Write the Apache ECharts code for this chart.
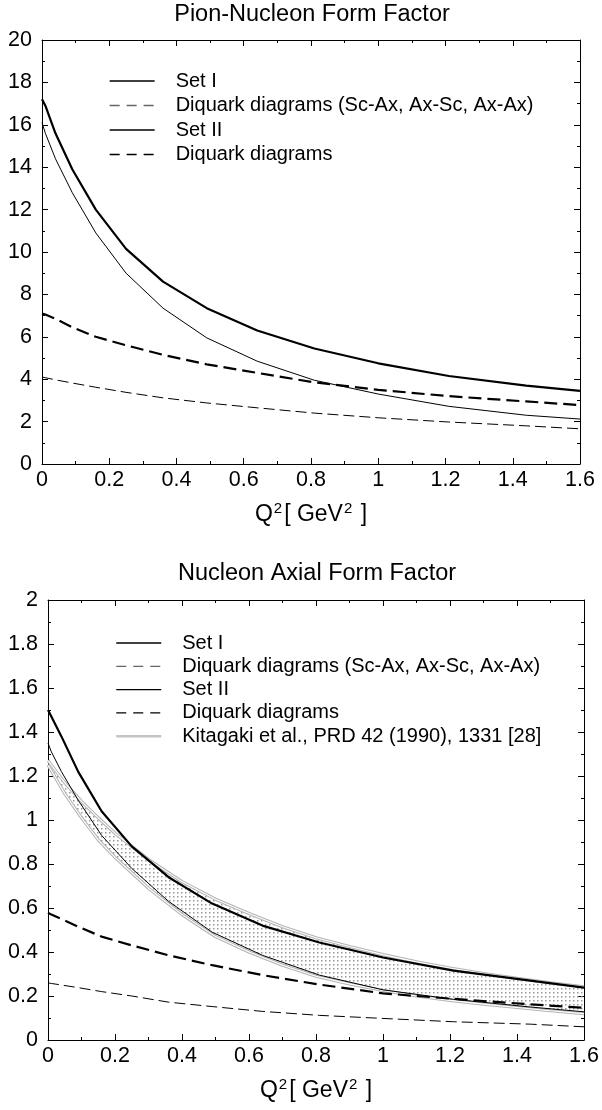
<!DOCTYPE html>
<html><head><meta charset="utf-8">
<script src="https://cdn.jsdelivr.net/npm/echarts@6/dist/echarts.min.js"></script>
<style>html,body{margin:0;padding:0;background:#fff}#c1,#c2{width:602px;height:555px}</style>
</head><body><div id="c1"></div><div id="c2"></div>
<script>
// ---------- data ----------
const q2 = [0, 0.01, 0.04, 0.09, 0.16, 0.25, 0.36, 0.49, 0.64, 0.81, 1.0, 1.21, 1.44, 1.6];

// Pion-Nucleon form factor
const pionSetI      = [17.2, 16.9, 15.6, 13.9, 12.0, 10.15, 8.6, 7.35, 6.3, 5.45, 4.75, 4.15, 3.7, 3.45];
const pionDiqI      = [7.1, 7.05, 6.85, 6.45, 6.0, 5.6, 5.15, 4.7, 4.3, 3.85, 3.5, 3.2, 2.95, 2.78];
const pionSetII     = [16.1, 15.6, 14.4, 12.8, 10.9, 9.0, 7.35, 5.95, 4.85, 3.95, 3.3, 2.72, 2.3, 2.12];
const pionDiqII     = [4.1, 4.07, 3.97, 3.82, 3.62, 3.38, 3.12, 2.88, 2.65, 2.4, 2.18, 1.98, 1.8, 1.66];

// Nucleon axial form factor
const axSetI        = [1.5, 1.47, 1.38, 1.22, 1.04, 0.88, 0.74, 0.62, 0.52, 0.443, 0.375, 0.315, 0.27, 0.238];
const axDiqI        = [0.578, 0.57, 0.55, 0.515, 0.47, 0.43, 0.385, 0.34, 0.295, 0.252, 0.212, 0.187, 0.162, 0.146];
const axSetII       = [1.35, 1.31, 1.22, 1.09, 0.93, 0.78, 0.63, 0.49, 0.385, 0.295, 0.228, 0.185, 0.15, 0.128];
const axDiqII       = [0.26, 0.257, 0.25, 0.238, 0.22, 0.2, 0.172, 0.152, 0.13, 0.112, 0.098, 0.083, 0.072, 0.06];

// Kitagaki et al. band
const kitQ2    = [0, 0.05, 0.1, 0.15, 0.2, 0.3, 0.4, 0.5, 0.6, 0.7, 0.8, 0.9, 1.0, 1.1, 1.2, 1.3, 1.4, 1.5, 1.6];
const kitUpper = [1.27, 1.17, 1.085, 1.01, 0.94, 0.82, 0.72, 0.64, 0.575, 0.515, 0.465, 0.425, 0.388, 0.355, 0.327, 0.302, 0.28, 0.26, 0.242];
const kitLower = [1.25, 1.12, 1.01, 0.91, 0.83, 0.69, 0.57, 0.47, 0.4, 0.34, 0.29, 0.255, 0.225, 0.2, 0.18, 0.163, 0.148, 0.133, 0.12];

const xTickLabels = ['0', '0.2', '0.4', '0.6', '0.8', '1', '1.2', '1.4', '1.6'];

const names1 = ['Set I', 'Diquark diagrams (Sc-Ax, Ax-Sc, Ax-Ax)', 'Set II', 'Diquark diagrams'];
const kitName = 'Kitagaki et al., PRD 42 (1990), 1331 [28]';

// ---------- helpers ----------
const FONT = '"Liberation Sans", Arial, Helvetica, sans-serif';
const zip = (xs, ys) => xs.map((x, i) => [x, ys[i]]);

function line(name, xs, ys, width, type, color, z) {
  return {
    name, type: 'line', data: zip(xs, ys), symbol: 'none', showSymbol: false,
    smooth: false, silent: true, z: z || 3,
    itemStyle: { color: color || '#000' },
    lineStyle: { width, type, color: color || '#000' }
  };
}

function makeAxes(yMax, yInt) {
  const tick = { show: true, inside: true, length: 6, lineStyle: { color: '#000', width: 1 } };
  const minor = { show: true, splitNumber: 2, length: 3, lineStyle: { color: '#000', width: 1 } };
  const aLine = { show: true, onZero: false, lineStyle: { color: '#000', width: 1 } };
  const xBase = { type: 'value', min: 0, max: 1.6, interval: 0.2, axisLine: aLine, axisTick: tick,
    minorTick: minor, splitLine: { show: false }, minorSplitLine: { show: false } };
  const yBase = { type: 'value', min: 0, max: yMax, interval: yInt, axisLine: aLine, axisTick: tick,
    minorTick: minor, splitLine: { show: false }, minorSplitLine: { show: false } };
  return {
    xAxis: [
      Object.assign({}, xBase, {
        position: 'bottom',
        axisLabel: { fontSize: 21.5, color: '#000', margin: 5, fontFamily: FONT, showMaxLabel: true, showMinLabel: true,
          formatter: (v) => xTickLabels[Math.round(v / 0.2)] },
        name: '{n|Q}{s|2}{n|[ GeV}{s|2}{n| ]}', nameLocation: 'middle', nameGap: 37,
        nameTextStyle: { fontSize: 23, color: '#000', fontFamily: FONT, lineHeight: 28,
          rich: {
            n: { fontSize: 23, color: '#000', fontFamily: FONT, lineHeight: 28, verticalAlign: 'middle' },
            s: { fontSize: 15, color: '#000', fontFamily: FONT, verticalAlign: 'top', lineHeight: 12, padding: [0, 2, 0, 1] }
          } }
      }),
      Object.assign({}, xBase, { position: 'top', axisLabel: { show: false } })
    ],
    yAxis: [
      Object.assign({}, yBase, { position: 'left',
        axisLabel: { fontSize: 21.5, color: '#000', margin: 10, fontFamily: FONT } }),
      Object.assign({}, yBase, { position: 'right', axisLabel: { show: false } })
    ]
  };
}

function legend(left, top, gap, data) {
  return {
    orient: 'vertical', left, top, itemWidth: 45, itemHeight: 12, itemGap: gap,
    selectedMode: false, padding: 0,
    itemStyle: { opacity: 0, borderWidth: 0 },
    textStyle: { fontSize: 20, color: '#000', fontFamily: FONT, padding: [0, 0, 0, 16] },
    data
  };
}

// ---------- chart 1 ----------
const c1 = echarts.init(document.getElementById('c1'), null, { renderer: 'canvas' });
const ax1 = makeAxes(20, 2);
c1.setOption({
  animation: false,
  backgroundColor: '#fff',
  title: { text: 'Pion-Nucleon Form Factor', left: 312, top: 3, textAlign: 'center', padding: 0,
    textStyle: { fontSize: 23.5, fontWeight: 'normal', color: '#000', fontFamily: FONT } },
  grid: { left: 42, top: 40, width: 538, height: 424, containLabel: false },
  xAxis: ax1.xAxis, yAxis: ax1.yAxis,
  legend: legend(109, 71, 4.5, [
    { name: names1[0], itemStyle: { opacity: 0 }, lineStyle: { width: 1.3, type: 'solid', color: '#000' } },
    { name: names1[1], itemStyle: { opacity: 0 }, lineStyle: { width: 1.3, type: [10, 7], color: '#666' } },
    { name: names1[2], itemStyle: { opacity: 0 }, lineStyle: { width: 1.3, type: 'solid', color: '#000' } },
    { name: names1[3], itemStyle: { opacity: 0 }, lineStyle: { width: 1.3, type: [10, 7], color: '#000' } }
  ]),
  series: [
    line(names1[0], q2, pionSetI, 2.2, 'solid'),
    line(names1[1], q2, pionDiqI, 2.2, [13, 6]),
    line(names1[2], q2, pionSetII, 1, 'solid'),
    line(names1[3], q2, pionDiqII, 1, [11, 5])
  ]
});

// ---------- chart 2 ----------
const pc = document.createElement('canvas');
pc.width = 4; pc.height = 4;
const g = pc.getContext('2d');
g.fillStyle = '#9a9a9a';
g.fillRect(1, 1, 1.5, 1.5);

const c2 = echarts.init(document.getElementById('c2'), null, { renderer: 'canvas' });
const ax2 = makeAxes(2, 0.2);
c2.setOption({
  animation: false,
  backgroundColor: '#fff',
  title: { text: 'Nucleon Axial Form Factor', left: 317, top: 7, textAlign: 'center', padding: 0,
    textStyle: { fontSize: 23.5, fontWeight: 'normal', color: '#000', fontFamily: FONT } },
  grid: { left: 48, top: 45, width: 538, height: 447, containLabel: false },
  xAxis: ax2.xAxis, yAxis: ax2.yAxis,
  legend: legend(115, 78, 3.3, [
    { name: names1[0], itemStyle: { opacity: 0 }, lineStyle: { width: 1.3, type: 'solid', color: '#000' } },
    { name: names1[1], itemStyle: { opacity: 0 }, lineStyle: { width: 1.3, type: [10, 7], color: '#666' } },
    { name: names1[2], itemStyle: { opacity: 0 }, lineStyle: { width: 1.3, type: 'solid', color: '#000' } },
    { name: names1[3], itemStyle: { opacity: 0 }, lineStyle: { width: 1.3, type: [10, 7], color: '#000' } },
    { name: kitName, itemStyle: { opacity: 0 }, lineStyle: { width: 2.5, type: 'solid', color: '#c4c4c4' } }
  ]),
  series: [
    { name: 'band', type: 'custom', coordinateSystem: 'cartesian2d', data: [[0, 0]], silent: true, z: 1,
      renderItem: function (params, api) {
        const pts = [];
        for (let i = 0; i < kitQ2.length; i++) pts.push(api.coord([kitQ2[i], kitUpper[i]]));
        for (let i = kitQ2.length - 1; i >= 0; i--) pts.push(api.coord([kitQ2[i], kitLower[i]]));
        return { type: 'polygon', shape: { points: pts }, style: { fill: { image: pc, repeat: 'repeat' }, stroke: null } };
      }
    },
    line(kitName, kitQ2, kitUpper, 3.2, 'solid', '#b4b4b4', 2),
    line('kitUpperInner', kitQ2, kitUpper, 1.1, 'solid', '#ffffff', 2),
    line('kitLowerOuter', kitQ2, kitLower, 3.2, 'solid', '#b4b4b4', 2),
    line('kitLowerInner', kitQ2, kitLower, 1.1, 'solid', '#ffffff', 2),
    line(names1[0], q2, axSetI, 2.2, 'solid'),
    line(names1[1], q2, axDiqI, 2.2, [13, 6]),
    line(names1[2], q2, axSetII, 1, 'solid'),
    line(names1[3], q2, axDiqII, 1, [11, 5])
  ]
});
</script>
</body></html>
